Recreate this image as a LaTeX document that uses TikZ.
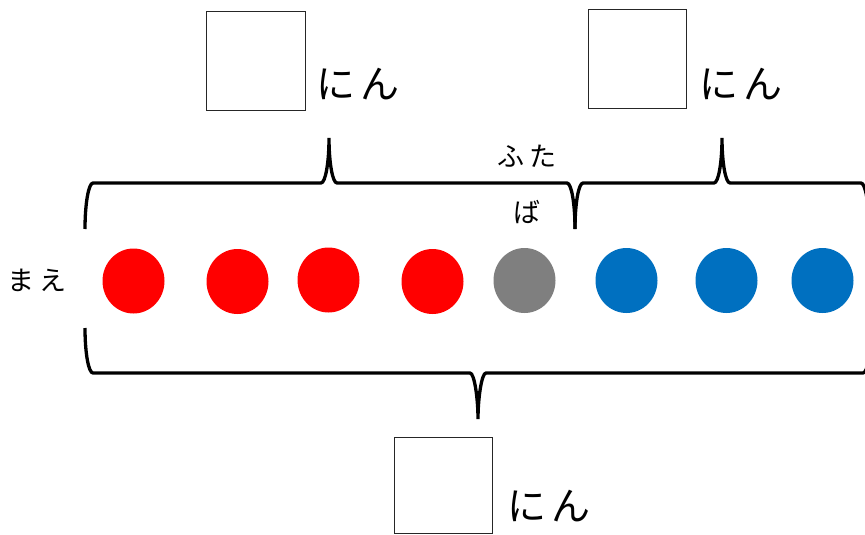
\documentclass[tikz,border=0pt]{standalone}
\usepackage{fontspec}
\newfontfamily\jp{Noto Sans CJK JP}
\usetikzlibrary{shapes.geometric}
\definecolor{dotred}{HTML}{FF0000}
\definecolor{dotgray}{HTML}{7F7F7F}
\definecolor{dotblue}{HTML}{0070C0}
\tikzset{
  dot/.style={ellipse, minimum width=62pt, minimum height=65pt, inner sep=0pt, draw=none},
  ansbox/.style={draw=black!85, line width=1pt, inner sep=0pt},
  bracestroke/.style={line width=3.3pt, black, line cap=butt},
  ninlabel/.style={font=\jp\fontsize{39pt}{42pt}\selectfont, inner sep=0pt},
  smalllabel/.style={font=\jp\fontsize{27pt}{56pt}\selectfont, inner sep=0pt, align=center},
}
\begin{document}
\begin{tikzpicture}[x=1pt,y=-1pt]
\clip (0,0) rectangle (865,535);
\fill[white] (0,0) rectangle (865,535);

% answer boxes
\node[ansbox, minimum width=99pt, minimum height=98pt] (b1) at (255.5,61) {};
\node[ansbox, minimum width=98pt, minimum height=98pt] (b2) at (637,59) {};
\node[ansbox, minimum width=98pt, minimum height=96pt] (b3) at (443,485) {};

% "にん" labels
\node[ninlabel] (n1) at (358,84) {に\hspace{6pt}ん};
\node[ninlabel] (n2) at (741,84) {に\hspace{6pt}ん};
\node[ninlabel] (n3) at (549,506) {に\hspace{6pt}ん};

% small labels
\node[smalllabel] (mae) at (37.5,280) {ま\hspace{5pt}え};
\node[smalllabel] (futaba) at (527,184) {ふ\hspace{5pt}た\\ば};

% dots
\node[dot, fill=dotred] (c1) at (133.5,281) {};
\node[dot, fill=dotred] (c2) at (237.5,281.5) {};
\node[dot, fill=dotred] (c3) at (328.5,280) {};
\node[dot, fill=dotred] (c4) at (432.5,281.5) {};
\node[dot, fill=dotgray] (c5) at (524.5,280.5) {};
\node[dot, fill=dotblue] (c6) at (626.5,280.5) {};
\node[dot, fill=dotblue] (c7) at (726.5,280.5) {};
\node[dot, fill=dotblue] (c8) at (822.5,280.5) {};

% top brace 1
\draw[bracestroke] (85,229) .. controls (85,203.6) and (88.6,183) .. (93,183)
  -- (321,183) .. controls (325.4,183) and (329,162.9) .. (329,138)
  .. controls (329,162.9) and (332.6,183) .. (337,183)
  -- (567,183) .. controls (571.4,183) and (575,203.6) .. (575,229);
% top brace 2
\draw[bracestroke] (575,229) .. controls (575,203.6) and (578.6,183) .. (583,183)
  -- (714,183) .. controls (718.4,183) and (722,162.9) .. (722,138)
  .. controls (722,162.9) and (725.6,183) .. (730,183)
  -- (861,183) .. controls (865.4,183) and (869,203.6) .. (869,229);
% bottom brace
\draw[bracestroke] (85,328) .. controls (85,353.4) and (88.6,373) .. (93,373)
  -- (470,373) .. controls (474.4,373) and (478,398.4) .. (478,419)
  .. controls (478,398.4) and (481.6,373) .. (486,373)
  -- (863,373) .. controls (867.4,373) and (871,353.4) .. (871,328);
\end{tikzpicture}
\end{document}
